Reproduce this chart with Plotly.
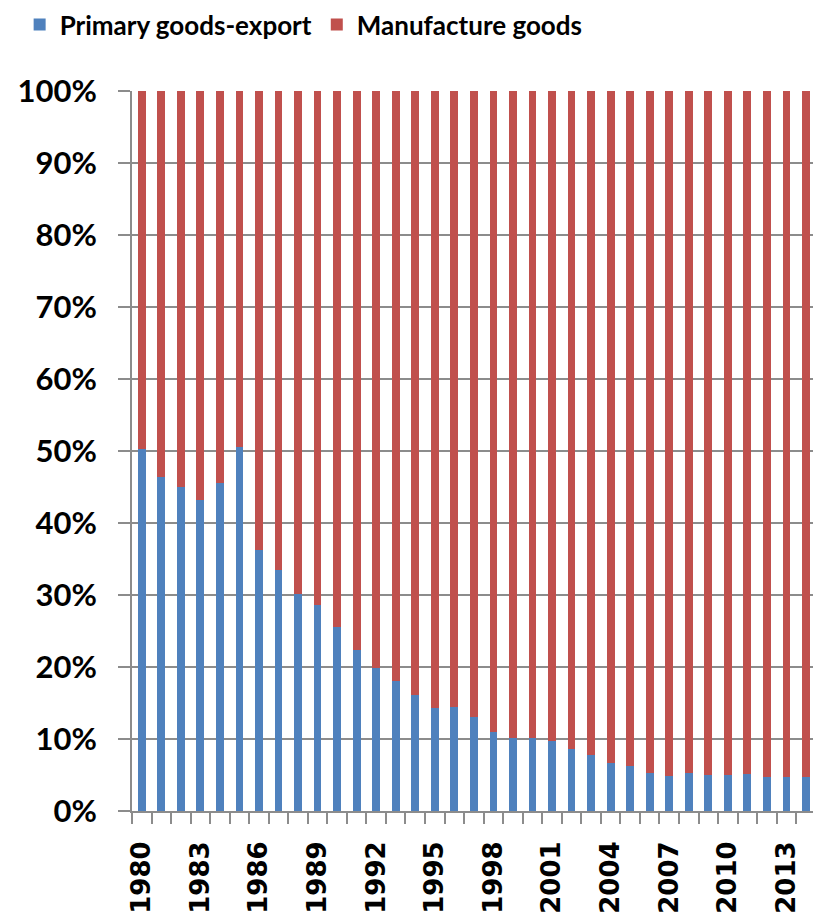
import plotly.graph_objects as go

# Export composition by year (share of total exports, %)
years = list(range(1980, 2015))
primary_pct = [
    50.3, 46.4, 45.0, 43.2, 45.6, 50.5, 36.3, 33.5, 30.2, 28.6,
    25.5, 22.4, 19.9, 18.1, 16.1, 14.3, 14.5, 13.0, 11.0, 10.1,
    10.1, 9.7, 8.6, 7.8, 6.7, 6.3, 5.3, 4.9, 5.3, 5.05,
    4.95, 5.1, 4.7, 4.7, 4.7,
]
manufacture_pct = [round(100 - p, 2) for p in primary_pct]

series_names = ["Primary goods-export", "Manufacture goods"]
series_colors = ["#4F81BD", "#C0504D"]
y_ticks = list(range(0, 101, 10))
y_labels = [f"{v}%" for v in y_ticks]

fig = go.Figure()
for name, vals, col in zip(series_names, [primary_pct, manufacture_pct], series_colors):
    fig.add_trace(go.Bar(
        x=years, y=vals, name=name,
        marker=dict(color=col, line=dict(width=0)),
        width=0.4,
    ))

grid_col = "#8C8C8C"
fig.update_layout(
    barmode="stack",
    width=813, height=914,
    margin=dict(l=132, r=0, t=91, b=103),
    plot_bgcolor="white", paper_bgcolor="white",
    legend=dict(
        orientation="h",
        x=-0.165, y=1.125, xanchor="left", yanchor="top",
        font=dict(family="Lato, sans-serif", size=26, color="black", weight="bold"),
        itemsizing="constant", traceorder="normal",
        itemwidth=30,
    ),
    xaxis=dict(
        range=[1979.5, 2014.36],
        tickmode="linear", tick0=1980, dtick=3,
        ticks="", tickangle=-90,
        ticklabelstandoff=18,
        tickfont=dict(family="DejaVu Sans", size=26, color="black", weight="bold"),
        showline=True, linecolor=grid_col, linewidth=2,
        showgrid=False, zeroline=False,
        minor=dict(tick0=1979.5, dtick=1, ticks="outside", ticklen=11,
                   tickcolor=grid_col, tickwidth=2),
    ),
    yaxis=dict(
        range=[0, 100],
        tickmode="array", tickvals=y_ticks, ticktext=y_labels,
        ticks="outside", ticklen=12, tickcolor=grid_col, tickwidth=2,
        ticklabelstandoff=15,
        tickfont=dict(family="Lato", size=31, color="black", weight="bold"),
        showline=True, linecolor=grid_col, linewidth=2,
        showgrid=True, gridcolor=grid_col, gridwidth=2,
        zeroline=False,
    ),
    bargap=0.6,
)

fig.write_html("out.html")
